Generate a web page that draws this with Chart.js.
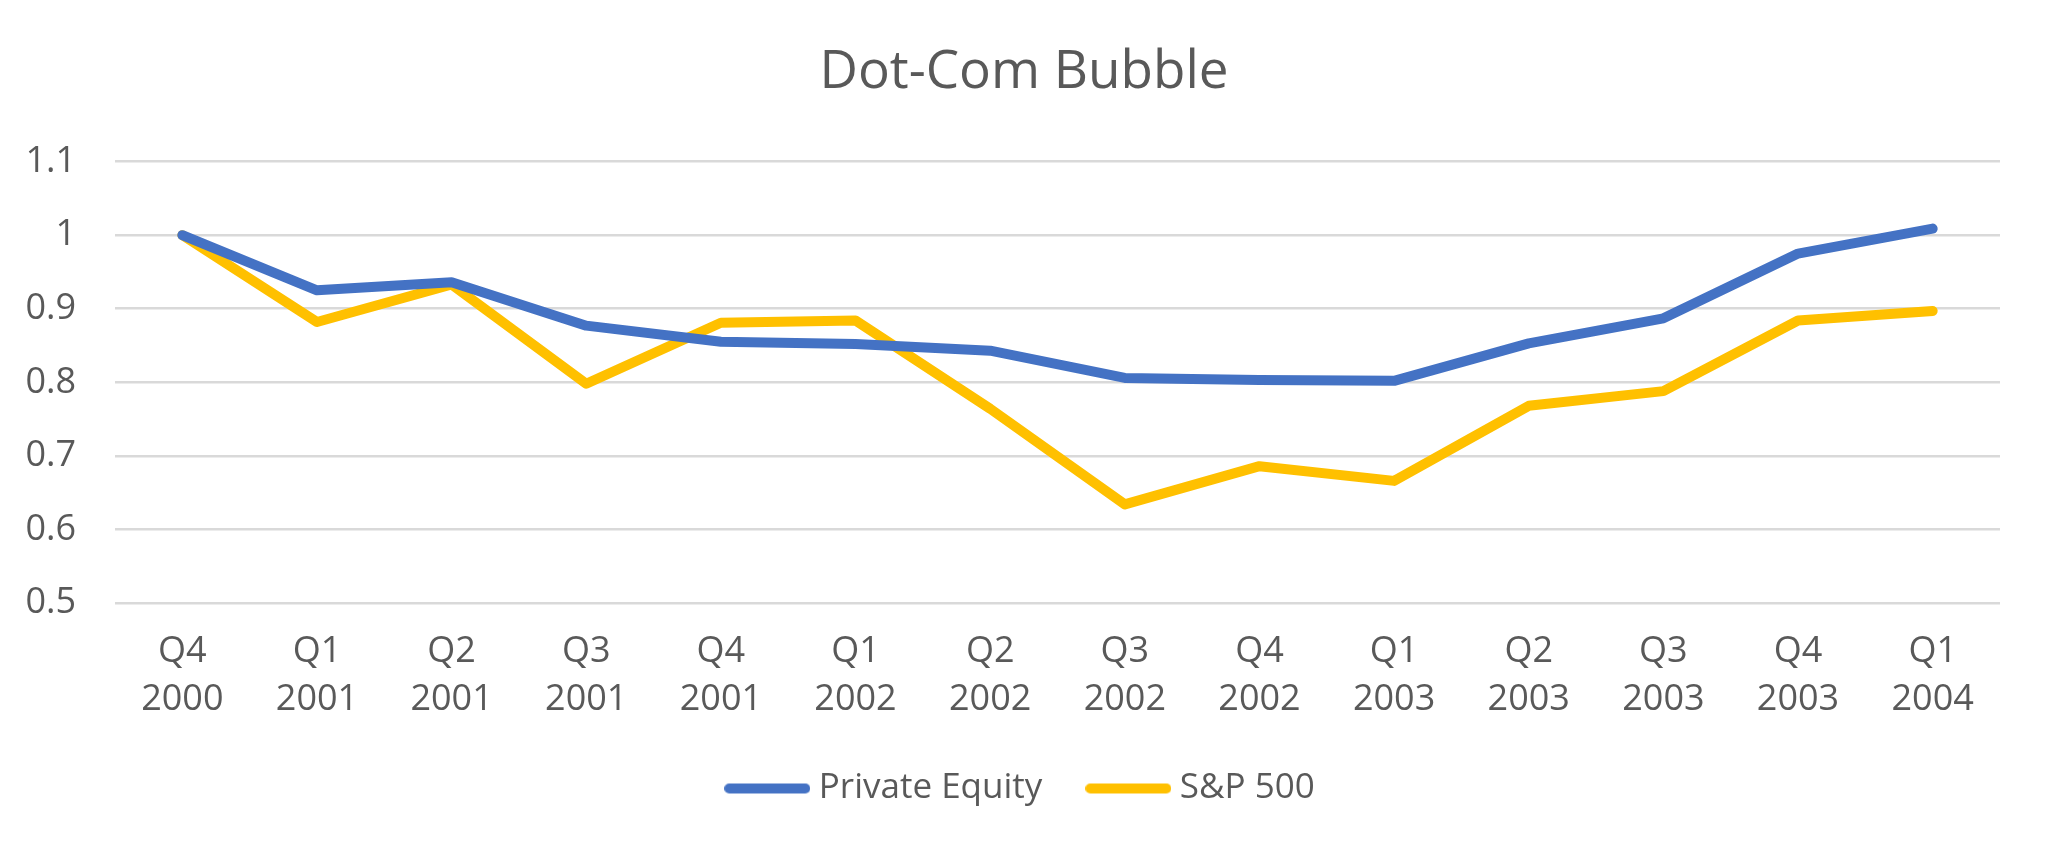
<!DOCTYPE html>
<html>
<head>
<meta charset="utf-8">
<script src="https://cdn.jsdelivr.net/npm/chart.js@4.4.1/dist/chart.umd.min.js"></script>
<style>
  html, body { margin: 0; padding: 0; background: #fff; }
  #wrap { width: 2048px; height: 852px; position: relative; }
</style>
</head>
<body>
<div id="wrap"><canvas id="myChart"></canvas></div>
<script>
const QUARTERS = [['Q4','2000'],['Q1','2001'],['Q2','2001'],['Q3','2001'],['Q4','2001'],['Q1','2002'],['Q2','2002'],
                  ['Q3','2002'],['Q4','2002'],['Q1','2003'],['Q2','2003'],['Q3','2003'],['Q4','2003'],['Q1','2004']];
const privateEquity = [1.0, 0.925, 0.936, 0.877, 0.855, 0.852, 0.843, 0.806, 0.803, 0.802, 0.853, 0.887, 0.975, 1.009];
const sp500 = [1.0, 0.882, 0.933, 0.798, 0.881, 0.884, 0.764, 0.634, 0.686, 0.666, 0.768, 0.788, 0.884, 0.897];
const Y_TICKS = [0.5, 0.6, 0.7, 0.8, 0.9, 1, 1.1];

const FONT = "'Open Sans', 'Noto Sans', sans-serif";
const GREY = '#595959';

// legend swatch: a short thick line with round ends
function swatch(color) {
  let c = document.createElement('canvas');
  c.width = 86; c.height = 12;
  let g = c.getContext('2d');
  g.strokeStyle = color;
  g.lineWidth = 10;
  g.lineCap = 'round';
  g.beginPath();
  g.moveTo(5, 6);
  g.lineTo(81, 6);
  g.stroke();
  return c;
}

let ctx = document.querySelector('#myChart').getContext('2d');
let myChart = new Chart(ctx, {
  type: 'line',
  data: {
    labels: QUARTERS,
    datasets: [{
      label: 'Private Equity',
      data: privateEquity,
      borderColor: '#4472C4',
      backgroundColor: '#4472C4',
      borderWidth: 10,
      pointRadius: 0,
      borderCapStyle: 'round',
      borderJoinStyle: 'round',
    }, {
      label: 'S&P 500',
      data: sp500,
      borderColor: '#FFC000',
      backgroundColor: '#FFC000',
      borderWidth: 10,
      pointRadius: 0,
      borderCapStyle: 'round',
      borderJoinStyle: 'round',
    }]
  },
  options: {
    responsive: true,
    maintainAspectRatio: false,
    animation: false,
    layout: { padding: { left: 0, right: 0, top: 0, bottom: 36 } },
    plugins: {
      title: {
        display: true,
        text: 'Dot-Com Bubble',
        color: GREY,
        font: { family: FONT, size: 53, weight: 'normal', lineHeight: 1.2 },
        padding: { top: 41, bottom: 57 },
      },
      legend: {
        position: 'bottom',
        labels: {
          color: GREY,
          font: { family: FONT, size: 35 },
          usePointStyle: true,
          pointStyleWidth: 68,
          boxHeight: 10,
          padding: 52,
          generateLabels: (chart) => Chart.defaults.plugins.legend.labels.generateLabels(chart)
            .map(item => ({ ...item, pointStyle: swatch(item.strokeStyle) })),
        },
      },
      tooltip: { enabled: false },
    },
    scales: {
      x: {
        offset: true,
        grid: { display: false, drawTicks: false },
        border: { display: false },
        ticks: {
          color: GREY,
          font: { family: FONT, size: 36, lineHeight: 1.35 },
          padding: 24,
          maxRotation: 0,
          autoSkip: false,
        },
        afterFit: (scale) => { scale.height = 116; },
      },
      y: {
        min: 0.5,
        max: 1.1,
        afterBuildTicks: (scale) => { scale.ticks = Y_TICKS.map(v => ({ value: v })); },
        grid: { color: '#D9D9D9', lineWidth: 2.5, drawTicks: false },
        border: { display: false },
        ticks: {
          color: GREY,
          font: { family: FONT, size: 36 },
          padding: 39,
          callback: (v) => String(Math.round(v * 10) / 10),
        },
        afterFit: (scale) => { scale.width = 115; },
      },
      // empty right-hand axis: keeps the plot off the right edge while title/legend stay centred on the page
      yRight: {
        position: 'right',
        display: true,
        grid: { display: false, drawTicks: false },
        border: { display: false },
        ticks: { display: false },
        afterFit: (scale) => { scale.width = 48; },
      },
    },
  },
});
</script>
</body>
</html>
